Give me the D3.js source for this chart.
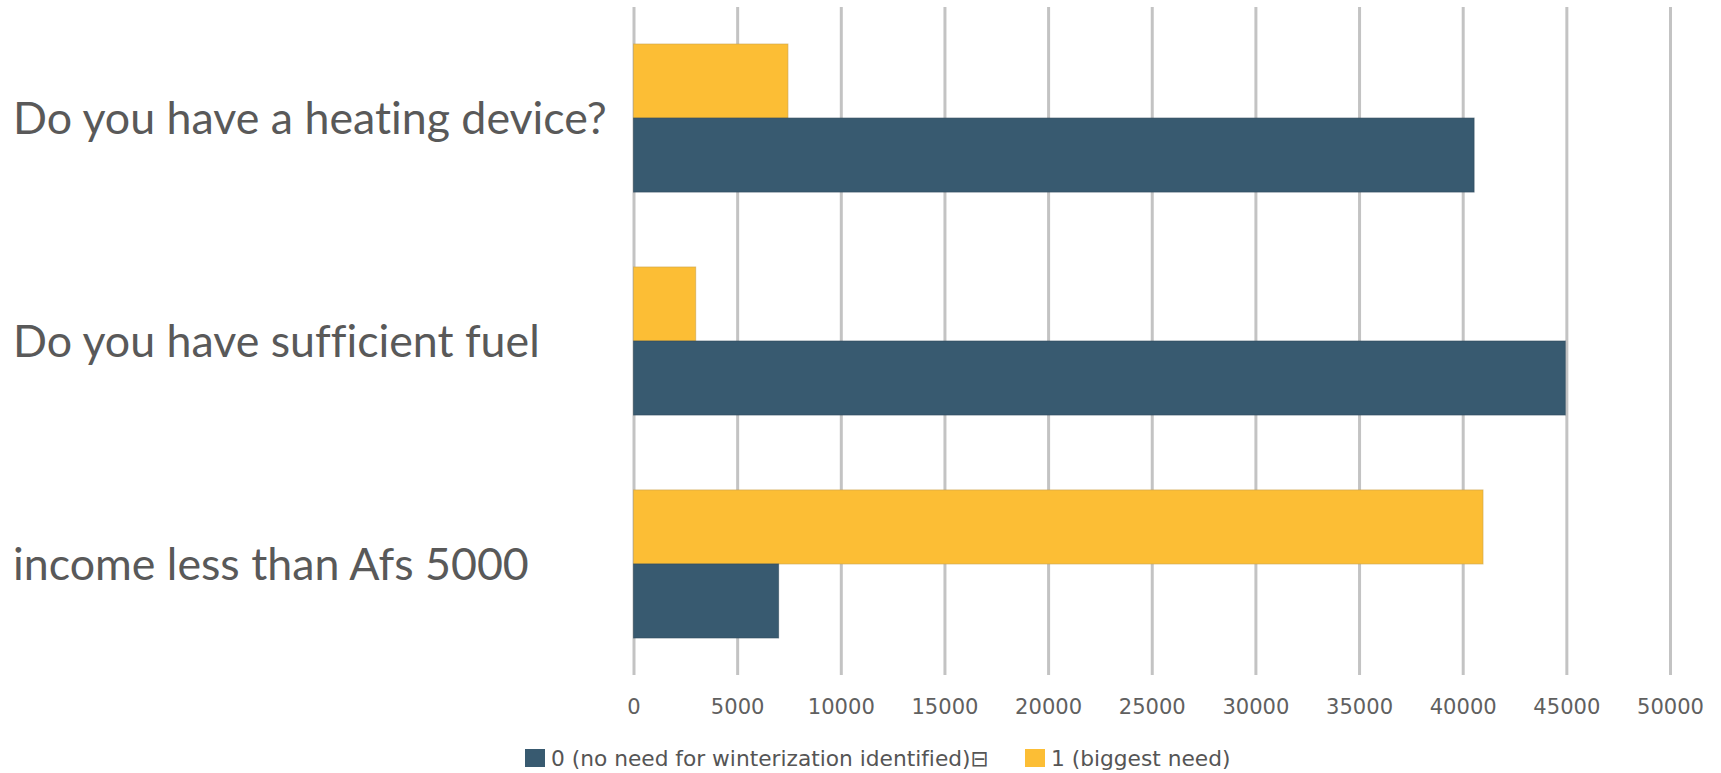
<!DOCTYPE html>
<html>
<head>
<meta charset="utf-8">
<script src="https://cdn.jsdelivr.net/npm/d3@7"></script>
<style>
    body { margin: 0; background: #fff; }
    svg { display: block; }
    text { font-variant-ligatures: none; font-feature-settings: "liga" 0, "clig" 0; }
</style>
</head>
<body>
<script>
    // chart values
    let categories = ["Do you have a heating device?", "Do you have sufficient fuel", "income less than Afs 5000"];
    let noNeed = [40550, 44950, 7000];        // 0 (no need for winterization identified)
    let biggestNeed = [7450, 3000, 40980];    // 1 (biggest need)
    let xTicks = [0, 5000, 10000, 15000, 20000, 25000, 30000, 35000, 40000, 45000, 50000];
    let seriesNames = ["0 (no need for winterization identified)\u229F", "1 (biggest need)"];
    let seriesKeys = ["need1", "need0"]; // top bar first
    let colors = { need0: "#385a70", need1: "#fcbe35" };

    let width = 1721, height = 773;
    let plotTop = 7, plotBottom = 675;

    let svg = d3.select("body").append("svg")
        .attr("width", width)
        .attr("height", height);

    let rows = categories.map((c, i) => ({ cat: c, need0: noNeed[i], need1: biggestNeed[i] }));

    let x = d3.scaleLinear()
        .domain([0, 50000])
        .range([633.5, 1670]);

    let y = d3.scaleBand()
        .domain(categories)
        .range([plotTop, plotBottom])
        .paddingInner(0.336)
        .paddingOuter(0.166);

    let ySub = d3.scaleBand()
        .domain(seriesKeys)
        .range([0, y.bandwidth()]);

    // grid + tick labels
    let axis = svg.append("g")
        .attr("transform", `translate(0,${plotBottom})`)
        .call(d3.axisBottom(x)
            .tickValues(xTicks)
            .tickFormat(d3.format("d"))
            .tickSizeInner(-(plotBottom - plotTop))
            .tickSizeOuter(0)
            .tickPadding(24));

    axis.select(".domain").remove();
    axis.selectAll(".tick line")
        .attr("stroke", "#c3c3c3")
        .attr("stroke-width", 3);

    let tickText = axis.selectAll(".tick text")
        .attr("fill", "#606060")
        .style("font-family", "DejaVu Sans")
        .style("font-size", "20px");

    // fit tick font so "10000" is ~67px wide
    let probe = tickText.filter(d => d === 10000).node();
    if (probe) {
        let fs = 20 * 67 / probe.getComputedTextLength();
        tickText.style("font-size", fs + "px");
    }

    // bars
    let groups = svg.append("g").selectAll("g")
        .data(rows)
        .enter()
        .append("g")
        .attr("transform", d => `translate(0,${y(d.cat)})`);

    groups.selectAll("rect")
        .data(d => seriesKeys.map(k => ({ key: k, value: d[k] })))
        .enter()
        .append("rect")
        .attr("x", x(0))
        .attr("y", d => ySub(d.key))
        .attr("width", d => x(d.value) - x(0))
        .attr("height", ySub.bandwidth())
        .attr("fill", d => colors[d.key])
        .attr("stroke", d => d.key === "need0" ? "#2e4a5c" : "#c9a24a")
        .attr("stroke-opacity", 0.6)
        .attr("stroke-width", 1);

    // category labels
    let labels = svg.append("g").selectAll("text")
        .data(categories)
        .enter()
        .append("text")
        .attr("x", 13)
        .attr("y", d => y(d) + y.bandwidth() / 2)
        .attr("dy", "0.36em")
        .attr("fill", "#595959")
        .style("font-family", "Lato")
        .style("font-size", "40px")
        .text(d => d);

    let firstLen = labels.node().getComputedTextLength();
    labels.style("font-size", (40 * 594 / firstLen) + "px");

    // legend
    let legend = svg.append("g");
    let legendItems = [
        { name: seriesNames[0], key: "need0", x: 525 },
        { name: seriesNames[1], key: "need1", x: 1025 }
    ];

    legendItems.forEach(item => {
        legend.append("rect")
            .attr("x", item.x)
            .attr("y", 749)
            .attr("width", 20)
            .attr("height", 18)
            .attr("fill", colors[item.key]);
    });

    let legendText = legend.selectAll("text")
        .data(legendItems)
        .enter()
        .append("text")
        .attr("x", d => d.x + 26)
        .attr("y", 758)
        .attr("dy", "0.36em")
        .attr("fill", "#555")
        .style("font-family", "DejaVu Sans")
        .style("font-size", "16px")
        .text(d => d.name);

    let legLen = legendText.node().getComputedTextLength();
    legendText.style("font-size", (16 * 438 / legLen) + "px");
</script>
</body>
</html>
